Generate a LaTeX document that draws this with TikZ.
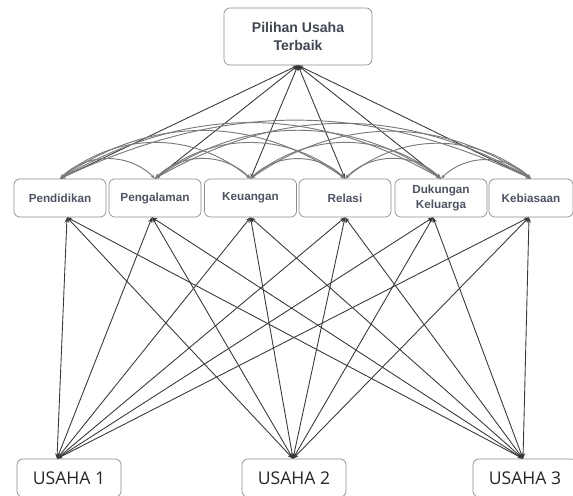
\documentclass[tikz,border=0pt]{standalone}
\usepackage{fontspec}
\setmainfont{Liberation Sans}
\newfontfamily\usahafont{Open Sans}
\usetikzlibrary{arrows.meta,calc}
\definecolor{teks}{HTML}{4D5462}
\definecolor{tepi}{HTML}{8C8C8C}
\definecolor{garisgelap}{HTML}{383838}
\definecolor{garisabu}{HTML}{7A7A7A}

\begin{document}
\begin{tikzpicture}[x=0.03cm,y=0.03cm,
        kotak/.style={draw=tepi,rounded corners=5pt,line width=0.6pt,align=center,inner sep=1pt,fill=white},
        kriteria/.style={kotak,minimum width=2.76cm,minimum height=1.14cm,text=teks,font=\fontsize{10}{12}\selectfont\bfseries},
        usaha/.style={kotak,minimum width=3.12cm,minimum height=1.14cm,text=black!85,font=\usahafont\fontsize{15}{17}\selectfont},
        garis/.style={draw=garisgelap,line width=0.75pt,{Stealth[length=4.5pt,width=3.5pt]}-{Stealth[length=4.5pt,width=3.5pt]}},
        lengkung/.style={draw=garisabu,line width=0.8pt,{Stealth[length=4pt,width=3pt]}-{Stealth[length=4pt,width=3pt]}}]
        \useasboundingbox (0,0) rectangle (573,495);
        % Tujuan
        \node[kotak,minimum width=4.44cm,minimum height=1.71cm,text=teks!85!black,font=\fontsize{12}{16}\selectfont\bfseries] (pilihan) at (298,458.5) {Pilihan Usaha\\Terbaik};
        % Kriteria
        \node[kriteria] (c1) at (60,297) {Pendidikan};
        \node[kriteria] (c2) at (155,297) {Pengalaman};
        \node[kriteria] (c3) at (250.5,297) {Keuangan};
        \node[kriteria] (c4) at (345,297) {Relasi};
        \node[kriteria] (c5) at (441,297) {Dukungan\\Keluarga};
        \node[kriteria,minimum width=2.52cm] (c6) at (531,297) {Kebiasaan};
        % Alternatif
        \node[usaha] (u1) at (69,17) {USAHA 1};
        \node[usaha] (u2) at (294,17) {USAHA 2};
        \node[usaha] (u3) at (525,17) {USAHA 3};
        % titik temu garis
        \foreach \k/\dx in {1/7,2/-3,3/0,4/0,5/-8,6/-2}
            \coordinate (b\k) at ($(c\k.south)+(\dx,0)$);
        \foreach \u/\dx in {1/-12,2/-1,3/-2}
            \coordinate (a\u) at ($(u\u.north)+(\dx,0)$);
        % Tujuan - kriteria
        \foreach \k in {1,...,6}{
            \draw[garis] (pilihan.south) -- (c\k.north);
        }
        % Kriteria - kriteria
        \foreach \i [evaluate=\i as \m using int(\i+1)] in {1,...,5}{
            \foreach \j in {\m,...,6}{
                \pgfmathtruncatemacro\sudut{45-5*(\j-\i-1)}
                \draw[lengkung] (c\i.north) to[bend left=\sudut] (c\j.north);
            }
        }
        % Alternatif - kriteria
        \foreach \u in {1,2,3}{
            \foreach \k in {1,...,6}{
                \draw[garis] (a\u) -- (b\k);
            }
        }
\end{tikzpicture}
\end{document}
